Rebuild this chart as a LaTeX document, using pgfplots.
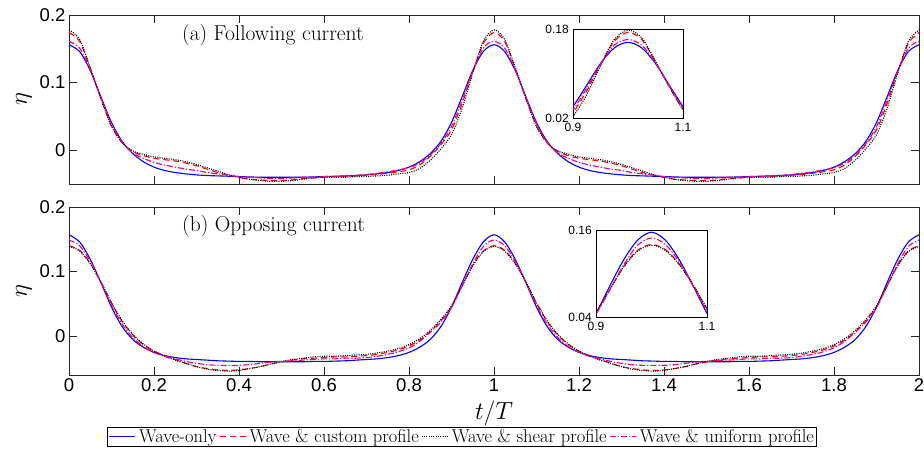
\documentclass[border=0pt]{standalone}
\usepackage{fontspec}
\setsansfont{Liberation Sans}
\usepackage{pgfplots}
\usepackage{pgfplotstable}
\pgfplotsset{compat=1.18}

\pgfplotstableread{
t blue red black mag
0.000 0.156 0.174 0.178 0.161
0.025 0.146 0.161 0.164 0.151
0.050 0.118 0.121 0.122 0.119
0.075 0.079 0.077 0.076 0.078
0.100 0.041 0.036 0.035 0.039
0.125 0.013 0.011 0.011 0.012
0.150 -0.005 -0.002 -0.001 -0.004
0.175 -0.017 -0.008 -0.006 -0.012
0.200 -0.025 -0.012 -0.010 -0.018
0.225 -0.030 -0.014 -0.012 -0.022
0.250 -0.033 -0.016 -0.014 -0.025
0.275 -0.035 -0.019 -0.017 -0.028
0.300 -0.0365 -0.023 -0.021 -0.030
0.325 -0.0375 -0.028 -0.026 -0.033
0.350 -0.038 -0.033 -0.031 -0.035
0.375 -0.0385 -0.037 -0.036 -0.037
0.400 -0.039 -0.040 -0.040 -0.039
0.425 -0.0395 -0.043 -0.043 -0.040
0.450 -0.040 -0.044 -0.045 -0.041
0.475 -0.040 -0.045 -0.046 -0.042
0.500 -0.040 -0.045 -0.046 -0.042
0.525 -0.040 -0.044 -0.045 -0.041
0.550 -0.040 -0.042 -0.043 -0.040
0.575 -0.0395 -0.041 -0.041 -0.040
0.600 -0.039 -0.040 -0.040 -0.039
0.625 -0.0385 -0.039 -0.040 -0.039
0.650 -0.038 -0.039 -0.040 -0.038
0.675 -0.0375 -0.038 -0.039 -0.037
0.700 -0.0365 -0.037 -0.039 -0.036
0.725 -0.035 -0.036 -0.038 -0.034
0.750 -0.033 -0.034 -0.037 -0.032
0.775 -0.030 -0.032 -0.035 -0.029
0.800 -0.025 -0.029 -0.033 -0.026
0.825 -0.017 -0.022 -0.027 -0.019
0.850 -0.005 -0.009 -0.015 -0.007
0.875 0.013 0.008 0.002 0.010
0.900 0.041 0.030 0.023 0.035
0.925 0.079 0.069 0.062 0.074
0.950 0.118 0.116 0.114 0.117
0.975 0.146 0.158 0.161 0.151
1.000 0.156 0.174 0.178 0.161
1.025 0.146 0.161 0.164 0.151
1.050 0.118 0.121 0.122 0.119
1.075 0.079 0.077 0.076 0.078
1.100 0.041 0.036 0.035 0.039
1.125 0.013 0.011 0.011 0.012
1.150 -0.005 -0.002 -0.001 -0.004
1.175 -0.017 -0.008 -0.006 -0.012
1.200 -0.025 -0.012 -0.010 -0.018
1.225 -0.030 -0.014 -0.012 -0.022
1.250 -0.033 -0.016 -0.014 -0.025
1.275 -0.035 -0.019 -0.017 -0.028
1.300 -0.0365 -0.023 -0.021 -0.030
1.325 -0.0375 -0.028 -0.026 -0.033
1.350 -0.038 -0.033 -0.031 -0.035
1.375 -0.0385 -0.037 -0.036 -0.037
1.400 -0.039 -0.040 -0.040 -0.039
1.425 -0.0395 -0.043 -0.043 -0.040
1.450 -0.040 -0.044 -0.045 -0.041
1.475 -0.040 -0.045 -0.046 -0.042
1.500 -0.040 -0.045 -0.046 -0.042
1.525 -0.040 -0.044 -0.045 -0.041
1.550 -0.040 -0.042 -0.043 -0.040
1.575 -0.0395 -0.041 -0.041 -0.040
1.600 -0.039 -0.040 -0.040 -0.039
1.625 -0.0385 -0.039 -0.040 -0.039
1.650 -0.038 -0.039 -0.040 -0.038
1.675 -0.0375 -0.038 -0.039 -0.037
1.700 -0.0365 -0.037 -0.039 -0.036
1.725 -0.035 -0.036 -0.038 -0.034
1.750 -0.033 -0.034 -0.037 -0.032
1.775 -0.030 -0.032 -0.035 -0.029
1.800 -0.025 -0.029 -0.033 -0.026
1.825 -0.017 -0.022 -0.027 -0.019
1.850 -0.005 -0.009 -0.015 -0.007
1.875 0.013 0.008 0.002 0.010
1.900 0.041 0.030 0.023 0.035
1.925 0.079 0.069 0.062 0.074
1.950 0.118 0.116 0.114 0.117
1.975 0.146 0.158 0.161 0.151
2.000 0.156 0.174 0.178 0.161
}\dataA

\pgfplotstableread{
t blue red black mag
0.000 0.157 0.140 0.139 0.149
0.025 0.146 0.133 0.132 0.140
0.050 0.119 0.113 0.112 0.116
0.075 0.083 0.084 0.084 0.083
0.100 0.045 0.051 0.052 0.048
0.125 0.015 0.023 0.024 0.019
0.150 -0.005 0.002 0.003 -0.002
0.175 -0.017 -0.013 -0.012 -0.016
0.200 -0.025 -0.023 -0.023 -0.025
0.225 -0.030 -0.030 -0.031 -0.031
0.250 -0.033 -0.036 -0.037 -0.035
0.275 -0.035 -0.042 -0.042 -0.039
0.300 -0.036 -0.047 -0.047 -0.042
0.325 -0.037 -0.050 -0.051 -0.044
0.350 -0.038 -0.052 -0.053 -0.045
0.375 -0.0385 -0.053 -0.054 -0.045
0.400 -0.039 -0.052 -0.053 -0.045
0.425 -0.039 -0.050 -0.050 -0.044
0.450 -0.0395 -0.047 -0.047 -0.042
0.475 -0.0395 -0.043 -0.043 -0.040
0.500 -0.0395 -0.040 -0.039 -0.039
0.525 -0.0395 -0.037 -0.036 -0.038
0.550 -0.0395 -0.035 -0.034 -0.037
0.575 -0.039 -0.034 -0.032 -0.036
0.600 -0.039 -0.033 -0.031 -0.035
0.625 -0.0385 -0.032 -0.031 -0.035
0.650 -0.038 -0.032 -0.030 -0.034
0.675 -0.037 -0.031 -0.029 -0.034
0.700 -0.036 -0.030 -0.028 -0.033
0.725 -0.035 -0.028 -0.026 -0.031
0.750 -0.033 -0.025 -0.023 -0.028
0.775 -0.030 -0.021 -0.019 -0.024
0.800 -0.025 -0.015 -0.013 -0.018
0.825 -0.017 -0.006 -0.004 -0.008
0.850 -0.005 0.007 0.009 0.006
0.875 0.015 0.024 0.026 0.022
0.900 0.045 0.046 0.047 0.044
0.925 0.083 0.078 0.078 0.078
0.950 0.119 0.110 0.109 0.112
0.975 0.146 0.132 0.131 0.139
1.000 0.157 0.140 0.139 0.149
1.025 0.146 0.133 0.132 0.140
1.050 0.119 0.113 0.112 0.116
1.075 0.083 0.084 0.084 0.083
1.100 0.045 0.051 0.052 0.048
1.125 0.015 0.023 0.024 0.019
1.150 -0.005 0.002 0.003 -0.002
1.175 -0.017 -0.013 -0.012 -0.016
1.200 -0.025 -0.023 -0.023 -0.025
1.225 -0.030 -0.030 -0.031 -0.031
1.250 -0.033 -0.036 -0.037 -0.035
1.275 -0.035 -0.042 -0.042 -0.039
1.300 -0.036 -0.047 -0.047 -0.042
1.325 -0.037 -0.050 -0.051 -0.044
1.350 -0.038 -0.052 -0.053 -0.045
1.375 -0.0385 -0.053 -0.054 -0.045
1.400 -0.039 -0.052 -0.053 -0.045
1.425 -0.039 -0.050 -0.050 -0.044
1.450 -0.0395 -0.047 -0.047 -0.042
1.475 -0.0395 -0.043 -0.043 -0.040
1.500 -0.0395 -0.040 -0.039 -0.039
1.525 -0.0395 -0.037 -0.036 -0.038
1.550 -0.0395 -0.035 -0.034 -0.037
1.575 -0.039 -0.034 -0.032 -0.036
1.600 -0.039 -0.033 -0.031 -0.035
1.625 -0.0385 -0.032 -0.031 -0.035
1.650 -0.038 -0.032 -0.030 -0.034
1.675 -0.037 -0.031 -0.029 -0.034
1.700 -0.036 -0.030 -0.028 -0.033
1.725 -0.035 -0.028 -0.026 -0.031
1.750 -0.033 -0.025 -0.023 -0.028
1.775 -0.030 -0.021 -0.019 -0.024
1.800 -0.025 -0.015 -0.013 -0.018
1.825 -0.017 -0.006 -0.004 -0.008
1.850 -0.005 0.007 0.009 0.006
1.875 0.015 0.024 0.026 0.022
1.900 0.045 0.046 0.047 0.044
1.925 0.083 0.078 0.078 0.078
1.950 0.119 0.110 0.109 0.112
1.975 0.146 0.132 0.131 0.139
2.000 0.157 0.140 0.139 0.149
}\dataB

\newcommand\tickfont{\sffamily\fontsize{18.5}{20}\selectfont}
\newcommand\insetfont{\sffamily\fontsize{12}{13}\selectfont}

\pgfplotsset{
  sblue/.style={draw=blue, color=blue, line width=1.1pt, smooth, no markers},
  sred/.style={draw=red, color=red, line width=1.1pt, dash pattern=on 6pt off 4pt, smooth, no markers},
  sblack/.style={draw=black, color=black, line width=1.1pt, dash pattern=on 1pt off 1.3pt, smooth, no markers},
  smag/.style={draw=magenta, color=magenta, line width=1.1pt, dash pattern=on 6pt off 2pt on 1.2pt off 2pt, smooth, no markers},
  mainax/.style={
    scale only axis, width=850pt,
    xmin=0, xmax=2,
    axis line style={black!85, line width=0.6pt},
    every tick/.style={black!85, line width=0.6pt},
    tick align=inside, major tick length=8pt,
    xtick={0,0.2,0.4,0.6,0.8,1,1.2,1.4,1.6,1.8,2},
    ytick={0,0.1,0.2},
    yticklabels={0,0.1,0.2},
    scaled ticks=false,
    tick label style={font=\tickfont, text=black},
    ylabel={$\eta$},
    ylabel style={font=\fontsize{26}{28}\selectfont, at={(axis description cs:-0.053,0.5)}, anchor=center},
  },
  insetax/.style={
    scale only axis,
    xmin=0.9, xmax=1.1,
    axis background/.style={fill=white},
    axis line style={black, line width=0.6pt},
    every tick/.style={black, line width=0.5pt},
    tick align=inside, major tick length=2pt,
    xtick={0.9,1.1}, xticklabels={0.9,1.1},
    scaled ticks=false,
    tick label style={font=\insetfont, text=black},
    xticklabel style={inner sep=1pt, yshift=-4pt},
    yticklabel style={inner sep=1pt, xshift=-3pt},
  },
}

\begin{document}
\begin{tikzpicture}
\useasboundingbox (0pt,0pt) rectangle (924pt,-455pt);

% (a) Following current
\begin{axis}[mainax, at={(69pt,-15pt)}, anchor=north west, height=169pt,
  ymin=-0.05, ymax=0.2, xticklabels={}]
\addplot[sblue] table[x=t, y=blue] {\dataA};
\addplot[sred] table[x=t, y=red] {\dataA};
\addplot[sblack] table[x=t, y=black] {\dataA};
\addplot[smag] table[x=t, y=mag] {\dataA};
\node[anchor=west, font=\fontsize{21.5}{23}\selectfont] at (rel axis cs:0.129,0.882) {(a) Following current};
\end{axis}

% (b) Opposing current
\begin{axis}[mainax, at={(69pt,-207pt)}, anchor=north west, height=168pt,
  ymin=-0.06, ymax=0.2,
  xticklabels={0,0.2,0.4,0.6,0.8,1,1.2,1.4,1.6,1.8,2},
  xlabel={$t/T$},
  xlabel style={font=\fontsize{24}{26}\selectfont, at={(axis description cs:0.5,-0.225)}, anchor=center},
  legend columns=4,
  legend cell align=left,
  legend image code/.code={\draw[#1] (0pt,0pt) -- (26pt,0pt);},
  legend style={at={(axis description cs:0.4624,-0.31)}, anchor=north,
    draw=black, line width=0.6pt, fill=white,
    font=\fontsize{18.5}{20}\selectfont, inner xsep=1pt, inner ysep=0.5pt,
    nodes={inner sep=1.5pt},
    /tikz/every even column/.append style={column sep=1pt},
    /tikz/every odd column/.append style={column sep=2pt}},
]
\addplot[sblue] table[x=t, y=blue] {\dataB};
\addlegendentry{Wave-only}
\addplot[sred] table[x=t, y=red] {\dataB};
\addlegendentry{Wave \& custom profile}
\addplot[sblack] table[x=t, y=black] {\dataB};
\addlegendentry{Wave \& shear profile}
\addplot[smag] table[x=t, y=mag] {\dataB};
\addlegendentry{Wave \& uniform profile}
\node[anchor=west, font=\fontsize{21.5}{23}\selectfont] at (rel axis cs:0.129,0.887) {(b) Opposing current};
\end{axis}

% inset (a)
\begin{axis}[insetax, at={(573pt,-29pt)}, anchor=north west, width=110pt, height=89pt,
  ymin=0.02, ymax=0.18, ytick={0.02,0.18}, yticklabels={0.02,0.18}]
\addplot[sblue] table[x=t, y=blue] {\dataA};
\addplot[sred] table[x=t, y=red] {\dataA};
\addplot[sblack] table[x=t, y=black] {\dataA};
\addplot[smag] table[x=t, y=mag] {\dataA};
\end{axis}

% inset (b)
\begin{axis}[insetax, at={(596pt,-230pt)}, anchor=north west, width=111pt, height=87pt,
  ymin=0.04, ymax=0.16, ytick={0.04,0.16}, yticklabels={0.04,0.16}]
\addplot[sblue] table[x=t, y=blue] {\dataB};
\addplot[sred] table[x=t, y=red] {\dataB};
\addplot[sblack] table[x=t, y=black] {\dataB};
\addplot[smag] table[x=t, y=mag] {\dataB};
\end{axis}
\end{tikzpicture}
\end{document}
